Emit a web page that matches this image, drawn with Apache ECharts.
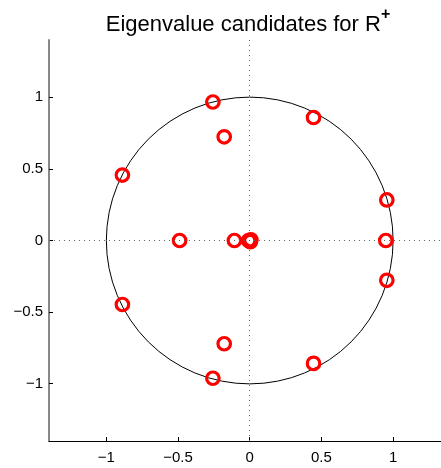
<!DOCTYPE html>
<html>
<head>
<meta charset="utf-8">
<script src="https://cdn.jsdelivr.net/npm/echarts@6/dist/echarts.min.js"></script>
<style>
html,body{margin:0;padding:0;background:#fff;}
#chart{width:441px;height:468px;}
</style>
</head>
<body>
<div id="chart"></div>
<script>
// Data
var eigRe = [-0.257, 0.445, -0.178, -0.888, 0.956, -0.489, -0.107, -0.008, 0.008, 0.004, 0.949, -0.888, 0.956, -0.178, -0.257, 0.445];
var eigIm = [0.967, 0.859, 0.724, 0.457, 0.283, 0, 0, 0, 0.005, -0.008, 0, -0.447, -0.278, -0.721, -0.962, -0.858];
var xTicks = [-1, -0.5, 0, 0.5, 1];
var yTicks = [-1, -0.5, 0, 0.5, 1];
var xRange = [-1.4, 1.334]; // visible part (axes run past the right edge of the picture)
var yRange = [-1.4, 1.4];
var unitCircle = [[0, 0, 1]]; // centre x, centre y, radius
var titleMain = 'Eigenvalue candidates for R';
var titleSup = '+';

var points = eigRe.map(function (v, i) { return [v, eigIm[i]]; });
function fmt(v) { return String(v).replace('-', '\u2212'); }

var chart = echarts.init(document.getElementById('chart'), null, {renderer: 'canvas'});
var font = 'Liberation Sans, Arial, Helvetica, sans-serif';
chart.setOption({
  animation: false,
  title: {
    text: '{m|' + titleMain + '}{s|' + titleSup + '}',
    left: 243, top: 2, textAlign: 'center',
    textStyle: {
      rich: {
        m: {fontFamily: font, fontSize: 22, color: '#000', fontWeight: 'normal'},
        s: {fontFamily: font, fontSize: 16, color: '#000', fontWeight: 'bold', padding: [0, 0, 19, 0]}
      }
    }
  },
  grid: {left: 49, top: 40, right: 0, bottom: 27, containLabel: false},
  xAxis: {
    type: 'value', min: xRange[0], max: xRange[1],
    axisLine: {show: true, onZero: false, lineStyle: {color: '#000', width: 1}},
    axisTick: {show: true, inside: true, length: 4, customValues: xTicks, lineStyle: {color: '#000'}},
    axisLabel: {customValues: xTicks, formatter: fmt, fontFamily: font, fontSize: 15, color: '#000', margin: 9},
    splitLine: {show: false}
  },
  yAxis: {
    type: 'value', min: yRange[0], max: yRange[1],
    axisLine: {show: true, onZero: false, lineStyle: {color: '#888', width: 2}},
    axisTick: {show: true, inside: true, length: 4, customValues: yTicks, lineStyle: {color: '#000'}},
    axisLabel: {customValues: yTicks, formatter: fmt, fontFamily: font, fontSize: 15, color: '#000', margin: 6},
    splitLine: {show: false}
  },
  series: [
    {
      type: 'custom',
      data: unitCircle,
      renderItem: function (params, api) {
        var c = api.coord([api.value(0), api.value(1)]);
        var s = api.size([api.value(2), api.value(2)]);
        return {type: 'circle', shape: {cx: c[0], cy: c[1], r: s[0]},
          style: {fill: 'none', stroke: '#000', lineWidth: 1}};
      },
      silent: true, z: 1
    },
    {
      type: 'scatter',
      data: points,
      symbol: 'circle',
      symbolSize: 12.5,
      itemStyle: {color: 'rgba(0,0,0,0)', borderColor: '#ff0000', borderWidth: 3.2, opacity: 1},
      markLine: {
        silent: true, symbol: 'none', label: {show: false},
        lineStyle: {color: '#666', width: 1, type: [1, 4]},
        data: [{xAxis: 0}, {yAxis: 0}]
      },
      z: 3
    }
  ]
});
</script>
</body>
</html>
